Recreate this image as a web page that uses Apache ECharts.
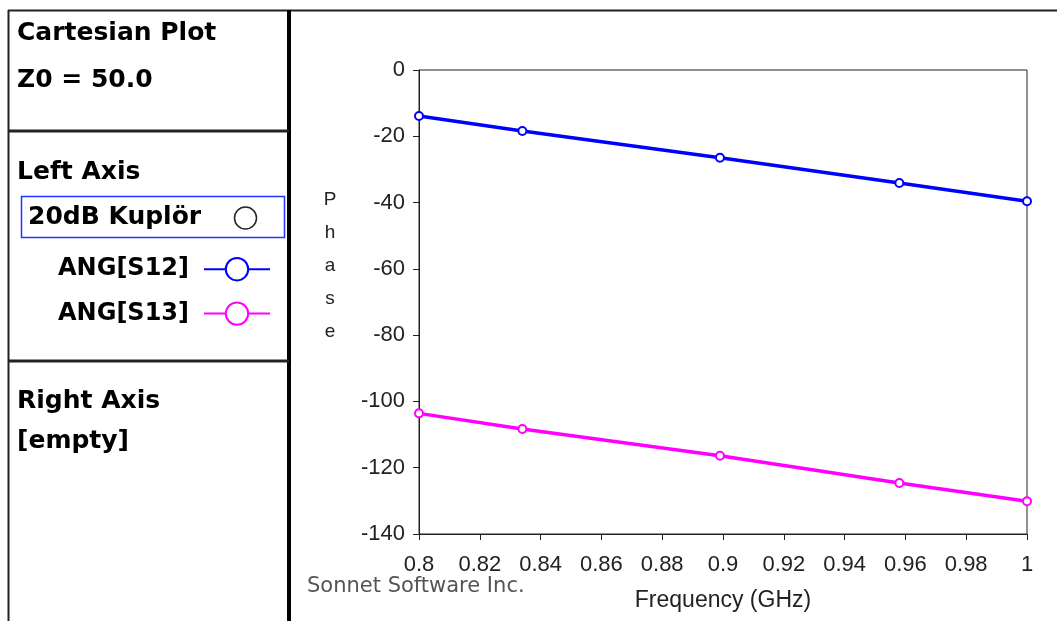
<!DOCTYPE html>
<html>
<head>
<meta charset="utf-8">
<script src="https://cdn.jsdelivr.net/npm/echarts@6/dist/echarts.min.js"></script>
<style>
  html, body { margin: 0; padding: 0; background: #fff; }
  #chart { width: 1057px; height: 621px; }
</style>
</head>
<body>
<div id="chart"></div>
<script>
// frequency (GHz) where the markers sit
var freq = [0.8, 0.834, 0.899, 0.958, 1.0];
// phase in degrees
var angS12 = [-13.9, -18.4, -26.5, -34.1, -39.6];
var angS13 = [-103.6, -108.3, -116.4, -124.6, -130.1];
var yTicks = { min: -140, max: 0, step: 20 };
var xTicks = { min: 0.8, max: 1.0, step: 0.02 };

var panelFont = 'bold 25px "DejaVu Sans", sans-serif';
var axisFont = '"Liberation Sans", Arial, sans-serif';

function pairs(xs, ys) {
    return xs.map(function (x, i) { return [x, ys[i]]; });
}

function panelText(txt, x, y) {
    return { type: 'text', x: x, y: y, style: { text: txt, font: panelFont, fill: '#000', verticalAlign: 'middle' } };
}

var myChart = echarts.init(document.getElementById('chart'));

var option = {
    animation: false,
    backgroundColor: '#fff',
    textStyle: { fontFamily: axisFont },
    grid: {
        left: 419, right: 30, top: 70, bottom: 87,
        outerBoundsMode: 'none',
        containLabel: false,
        show: true, borderColor: '#222', borderWidth: 1, backgroundColor: 'transparent'
    },
    legend: {
        orient: 'vertical',
        right: 781,
        top: 252,
        align: 'right',
        itemGap: 20,
        itemWidth: 66,
        itemHeight: 28,
        lineStyle: { width: 2 },
        itemStyle: { borderWidth: 1.5 },
        textStyle: { fontSize: 24, fontWeight: 'bold', color: '#000', fontFamily: 'DejaVu Sans', padding: [0, 10, 0, 0] },
        data: ['ANG[S12]', 'ANG[S13]']
    },
    xAxis: {
        type: 'value',
        min: xTicks.min, max: xTicks.max, interval: xTicks.step,
        name: 'Frequency (GHz)',
        nameLocation: 'middle',
        nameGap: 55,
        nameTextStyle: { fontSize: 23, color: '#222' },
        axisLine: { onZero: false, lineStyle: { color: '#222', width: 1 } },
        axisTick: { show: true, inside: false, length: 6, lineStyle: { color: '#222' } },
        axisLabel: {
            fontSize: 22, color: '#222', margin: 20,
            formatter: function (v) { return String(+v.toFixed(2)); }
        },
        splitLine: { show: false }
    },
    yAxis: {
        type: 'value',
        min: yTicks.min, max: yTicks.max, interval: yTicks.step,
        axisLine: { onZero: false, lineStyle: { color: '#222', width: 1 } },
        axisTick: { show: true, inside: false, length: 6, lineStyle: { color: '#222' } },
        axisLabel: { fontSize: 22, color: '#222', margin: 14 },
        splitLine: { show: false }
    },
    series: [
        {
            name: 'ANG[S12]',
            type: 'line',
            data: pairs(freq, angS12),
            symbol: 'emptyCircle',
            symbolSize: 8,
            itemStyle: { color: '#0000ff', borderWidth: 2 },
            lineStyle: { color: '#0000ff', width: 3.5 }
        },
        {
            name: 'ANG[S13]',
            type: 'line',
            data: pairs(freq, angS13),
            symbol: 'emptyCircle',
            symbolSize: 8,
            itemStyle: { color: '#ff00ff', borderWidth: 2 },
            lineStyle: { color: '#ff00ff', width: 3.5 }
        }
    ],
    graphic: [
        // frame of the left panel
        { type: 'line', shape: { x1: 8, y1: 10.5, x2: 1057, y2: 10.5 }, style: { stroke: '#222', lineWidth: 2 } },
        { type: 'line', shape: { x1: 8.5, y1: 10, x2: 8.5, y2: 621 }, style: { stroke: '#222', lineWidth: 2 } },
        { type: 'line', shape: { x1: 289, y1: 10, x2: 289, y2: 621 }, style: { stroke: '#000', lineWidth: 4 } },
        { type: 'line', shape: { x1: 8, y1: 131, x2: 289, y2: 131 }, style: { stroke: '#222', lineWidth: 3 } },
        { type: 'line', shape: { x1: 8, y1: 361, x2: 289, y2: 361 }, style: { stroke: '#222', lineWidth: 3 } },
        // panel texts
        panelText('Cartesian Plot', 17, 33),
        panelText('Z0 = 50.0', 17, 80),
        panelText('Left Axis', 17, 172),
        panelText('Right Axis', 17, 401),
        panelText('[empty]', 17, 441),
        // file entry box
        { type: 'rect', shape: { x: 21.5, y: 196.5, width: 263, height: 41 }, style: { fill: 'none', stroke: '#2233ff', lineWidth: 1.5 } },
        panelText('20dB Kuplör', 28, 217),
        { type: 'circle', shape: { cx: 245.5, cy: 218, r: 11 }, style: { fill: 'none', stroke: '#222', lineWidth: 1.5 } },
        // y axis title, letters stacked
        { type: 'text', x: 330, y: 266, style: { text: 'P\nh\na\ns\ne', font: '19px "Liberation Sans", Arial, sans-serif', fill: '#222', lineHeight: 33, align: 'center', verticalAlign: 'middle' } },
        // footer
        { type: 'text', x: 307, y: 587, style: { text: 'Sonnet Software Inc.', font: '21px "DejaVu Sans", sans-serif', fill: '#555', verticalAlign: 'middle' } }
    ]
};

myChart.setOption(option);
</script>
</body>
</html>
